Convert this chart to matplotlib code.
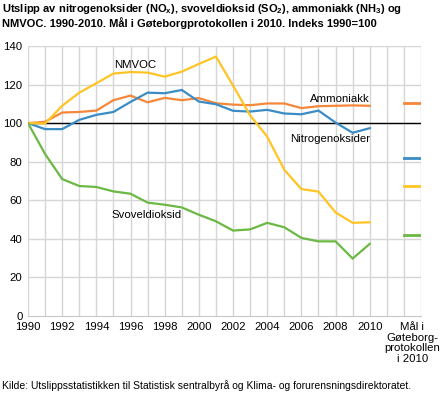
import matplotlib
matplotlib.use("Agg")
import matplotlib.pyplot as plt

plt.rcParams['font.family'] = ['Liberation Sans', 'DejaVu Sans']

years = list(range(1990, 2011))
nox = [100, 96.9, 96.9, 101.7, 104.3, 105.8, 111.0, 115.8, 115.5, 117.2, 111.2,
       109.8, 106.4, 106.0, 106.9, 105.0, 104.6, 106.5, 100.3, 95.0, 97.4]
so2 = [100, 84.0, 71.0, 67.4, 66.9, 64.6, 63.4, 58.8, 57.7, 56.3, 52.5,
       49.1, 44.3, 44.9, 48.3, 46.0, 40.5, 38.7, 38.7, 29.8, 37.4]
nh3 = [100, 100.7, 105.5, 105.8, 106.5, 111.9, 114.3, 110.8, 113.1, 111.9, 113.0,
       110.3, 109.6, 109.3, 110.2, 110.2, 107.8, 108.8, 109.0, 109.2, 109.0]
nmvoc = [100, 99.8, 109.0, 115.8, 120.7, 125.7, 126.5, 126.2, 124.1, 126.7, 130.7,
         134.5, 119.5, 104.0, 93.0, 75.8, 65.8, 64.5, 53.7, 48.3, 48.6]
targets = {'nox': 81.7, 'so2': 42.2, 'nh3': 110.5, 'nmvoc': 67.3}

colors = {'nox': '#3A8DC4', 'so2': '#6BB844', 'nh3': '#F5873A', 'nmvoc': '#FFC425'}

year_ticks = list(range(1990, 2011, 2))
target_label = "Mål i\nGøteborg-\nprotokollen\ni 2010"
y_ticks = [0, 20, 40, 60, 80, 100, 120, 140]

fig = plt.figure(figsize=(4.44, 3.96), dpi=100)
ax = fig.add_axes([28/444, 1-316/396, (421-28)/444, (316-46)/396])

for x in range(1990, 2014):
    ax.axvline(x, color='#d6d6d6', lw=1, zorder=0)
for y in y_ticks[1:]:
    ax.axhline(y, color='#d6d6d6', lw=1, zorder=0)
ax.axhline(100, color='black', lw=1, zorder=1)

series = [('nh3', nh3), ('nox', nox), ('nmvoc', nmvoc), ('so2', so2)]
for key, vals in series:
    ax.plot(years, vals, color=colors[key], lw=1.6, zorder=3, solid_joinstyle='miter')
    ax.plot([2012, 2013], [targets[key]] * 2, color=colors[key], lw=2, zorder=3)

fs = 8.2
ax.text(1996.3, 130.2, "NMVOC", ha='center', va='center', fontsize=fs)
ax.text(2010, 112.6, "Ammoniakk", ha='right', va='center', fontsize=fs)
ax.text(2010, 91.7, "Nitrogenoksider", ha='right', va='center', fontsize=fs)
ax.text(1994.9, 52.5, "Svoveldioksid", ha='left', va='center', fontsize=fs)

ax.set_xlim(1990, 2013)
ax.set_ylim(0, 140)
ax.set_xticks(year_ticks + [2012.5])
ax.set_xticklabels([str(y) for y in year_ticks] + [target_label], fontsize=fs,
                   linespacing=1.12)
ax.set_yticks(y_ticks)
ax.set_yticklabels([str(v) for v in y_ticks], fontsize=fs)
ax.tick_params(length=0, pad=4)
for s in ['top', 'right', 'left']:
    ax.spines[s].set_visible(False)
ax.spines['bottom'].set_color('#c8c8c8')

fig.text(2/444, 1-2/396,
         "Utslipp av nitrogenoksider (NO$_\\mathregular{x}$), svoveldioksid (SO$_\\mathregular{2}$), ammoniakk (NH$_\\mathregular{3}$) og\n"
         "NMVOC. 1990-2010. Mål i Gøteborgprotokollen i 2010. Indeks 1990=100",
         ha='left', va='top', fontsize=8.0, fontweight='bold', linespacing=1.1)
fig.text(2/444, 1-386/396,
         "Kilde: Utslippsstatistikken til Statistisk sentralbyrå og Klima- og forurensningsdirektoratet.",
         ha='left', va='center', fontsize=7.5)

fig.savefig("out.png", dpi=100)
